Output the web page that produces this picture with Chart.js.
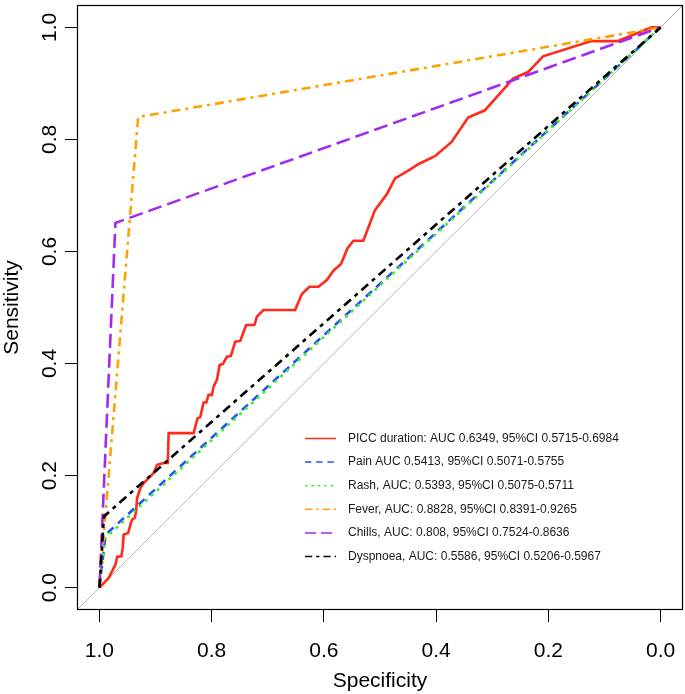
<!DOCTYPE html>
<html>
<head>
<meta charset="utf-8">
<script src="https://cdn.jsdelivr.net/npm/chart.js@4.4.1/dist/chart.umd.min.js"></script>
<style>
  body { margin: 0; background: #fff; }
  #roc { display: block; }
</style>
</head>
<body>
<canvas id="roc" width="685" height="694"></canvas>
<script>
// Specificity (x, trục đảo) và sensitivity (y)
const piccSpec = [1, 0.9835, 0.9715, 0.9685, 0.9609, 0.9585, 0.9568, 0.9489, 0.9448, 0.9418,
  0.9372, 0.9347, 0.9329, 0.927, 0.9212, 0.9123, 0.9034, 0.8973, 0.8856, 0.8781,
  0.8767, 0.8322, 0.8251, 0.8203, 0.8144, 0.8096, 0.8055, 0.7995, 0.7966, 0.7906,
  0.7859, 0.7799, 0.7728, 0.7657, 0.758, 0.7491, 0.7384, 0.7237, 0.7194, 0.7077,
  0.6512, 0.6393, 0.6258, 0.6098, 0.5948, 0.5831, 0.5694, 0.5582, 0.5475, 0.5297,
  0.5089, 0.487, 0.4733, 0.4466, 0.4319, 0.4021, 0.3724, 0.3429, 0.3132, 0.2628,
  0.2361, 0.2094, 0.1233, 0.076, 0.016, 0];
const piccSens = [0, 0.0173, 0.041, 0.0547, 0.0558, 0.0708, 0.0945, 0.0975, 0.1123, 0.1212,
  0.1242, 0.136, 0.1599, 0.1777, 0.1866, 0.1955, 0.2045, 0.2193, 0.2223, 0.2223,
  0.2758, 0.2758, 0.3025, 0.3043, 0.3303, 0.3303, 0.344, 0.344, 0.3588, 0.3708,
  0.3975, 0.3993, 0.4123, 0.4135, 0.439, 0.4403, 0.4688, 0.4688, 0.4836, 0.4955,
  0.4955, 0.5241, 0.5371, 0.5371, 0.549, 0.5656, 0.5775, 0.6055, 0.6191, 0.6191,
  0.6738, 0.7036, 0.7303, 0.7463, 0.7558, 0.7701, 0.7956, 0.839, 0.852, 0.9086,
  0.9203, 0.9483, 0.9756, 0.9756, 1, 1];

const painSpec = [1, 0.989, 0];
const painSens = [0, 0.0945, 1];
const rashSpec = [1, 0.99, 0];
const rashSens = [0, 0.088, 1];
const feverSpec = [1, 0.931, 0];
const feverSens = [0, 0.84, 1];
const chillsSpec = [1, 0.9715, 0];
const chillsSens = [0, 0.651, 1];
const dyspSpec = [1, 0.992, 0];
const dyspSens = [0, 0.127, 1];

// đường chéo tham chiếu (abline) trải hết khung
const diagSpec = [1.04, -0.04];
const diagSens = [-0.04, 1.04];

const seriesLabels = [
  "PICC duration: AUC 0.6349, 95%CI 0.5715-0.6984",
  "Pain AUC 0.5413, 95%CI 0.5071-0.5755",
  "Rash, AUC: 0.5393, 95%CI 0.5075-0.5711",
  "Fever, AUC: 0.8828, 95%CI 0.8391-0.9265",
  "Chills, AUC: 0.808, 95%CI 0.7524-0.8636",
  "Dyspnoea, AUC: 0.5586, 95%CI 0.5206-0.5967"
];
const xTicks = [1.0, 0.8, 0.6, 0.4, 0.2, 0.0];
const yTicks = [0.0, 0.2, 0.4, 0.6, 0.8, 1.0];

function toPoints(xs, ys) {
  return xs.map(function (x, i) { return { x: x, y: ys[i] }; });
}

function rocSet(label, xs, ys, color, dash, order) {
  return {
    label: label,
    data: toPoints(xs, ys),
    borderColor: color,
    backgroundColor: color,
    borderWidth: 2.6,
    borderDash: dash,
    pointRadius: 0,
    tension: 0,
    fill: false,
    order: order
  };
}

const datasets = [
  rocSet(seriesLabels[0], piccSpec, piccSens, "#ff2a1a", [], 7),
  rocSet(seriesLabels[1], painSpec, painSens, "#2450ff", [8, 6], 6),
  rocSet(seriesLabels[2], rashSpec, rashSens, "#3cef2c", [3, 5], 5),
  rocSet(seriesLabels[3], feverSpec, feverSens, "#ffa200", [9, 5, 3, 5], 4),
  rocSet(seriesLabels[4], chillsSpec, chillsSens, "#a12af0", [14, 6], 3),
  rocSet(seriesLabels[5], dyspSpec, dyspSens, "#000000", [9, 5, 4, 5], 2),
  {
    label: "diag",
    data: toPoints(diagSpec, diagSens),
    borderColor: "#b4b4b4",
    borderWidth: 1,
    pointRadius: 0,
    order: 8
  }
];

// Khung hộp kiểu R + chú giải vẽ tay
const boxAndLegend = {
  id: "boxAndLegend",
  afterDraw: function (chart) {
    const ctx = chart.ctx;
    const a = chart.chartArea;
    ctx.save();
    ctx.strokeStyle = "#000";
    ctx.lineWidth = 1.2;
    ctx.strokeRect(a.left + 0.5, a.top + 0.5, a.right - a.left - 1, a.bottom - a.top - 1);

    const lineX0 = a.left + 228;
    const lineX1 = a.left + 259;
    const textX = a.left + 271;
    const rowY0 = 438.5;
    const rowGap = 23.6;
    ctx.font = "12px 'Liberation Sans', Arial, Helvetica, sans-serif";
    ctx.textBaseline = "middle";
    ctx.textAlign = "left";
    let row = 0;
    chart.data.datasets.forEach(function (ds) {
      if (ds.label === "diag") return;
      const y = rowY0 + row * rowGap;
      ctx.strokeStyle = ds.borderColor;
      ctx.lineWidth = 1.5;
      ctx.setLineDash(ds.borderDash.map(function (d) { return d * 0.8; }));
      ctx.beginPath();
      ctx.moveTo(lineX0, y);
      ctx.lineTo(lineX1, y);
      ctx.stroke();
      ctx.setLineDash([]);
      ctx.fillStyle = "#1a1a1a";
      ctx.fillText(ds.label, textX, y);
      row++;
    });
    ctx.restore();
  }
};

Chart.defaults.font.family = "'Liberation Sans', Arial, Helvetica, sans-serif";
Chart.defaults.color = "#000";

new Chart(document.getElementById("roc"), {
  type: "line",
  data: { datasets: datasets },
  plugins: [boxAndLegend],
  options: {
    responsive: false,
    animation: false,
    layout: { padding: { top: 5, right: 2, left: 0, bottom: 0 } },
    plugins: {
      legend: { display: false },
      tooltip: { enabled: false }
    },
    scales: {
      x: {
        type: "linear",
        reverse: true,
        min: -0.04,
        max: 1.04,
        afterBuildTicks: function (s) { s.ticks = xTicks.map(function (v) { return { value: v }; }); },
        afterFit: function (s) { s.height = 84; s.paddingLeft = 0; s.paddingRight = 0; },
        ticks: {
          font: { size: 21, lineHeight: 1.2 },
          color: "#000",
          padding: 17,
          maxRotation: 0,
          autoSkip: false,
          callback: function (v) { return Number(v).toFixed(1); }
        },
        grid: { drawOnChartArea: false, drawTicks: true, tickLength: 12, color: "#000" },
        border: { display: false },
        title: { display: true, text: "Specificity", font: { size: 21, lineHeight: 1.2 }, color: "#000", padding: 0 }
      },
      y: {
        type: "linear",
        min: -0.04,
        max: 1.04,
        afterBuildTicks: function (s) { s.ticks = yTicks.map(function (v) { return { value: v }; }); },
        afterFit: function (s) { s.width = 77; s.paddingTop = 0; s.paddingBottom = 0; },
        ticks: {
          font: { size: 21, lineHeight: 1.2 },
          color: "#000",
          padding: 0,
          minRotation: 90,
          maxRotation: 90,
          crossAlign: "center",
          autoSkip: false,
          callback: function (v) { return Number(v).toFixed(1); }
        },
        grid: { drawOnChartArea: false, drawTicks: true, tickLength: 12, color: "#000" },
        border: { display: false },
        title: { display: true, text: "Sensitivity", font: { size: 21, lineHeight: 1.2 }, color: "#000", padding: 0 }
      }
    }
  }
});
</script>
</body>
</html>
